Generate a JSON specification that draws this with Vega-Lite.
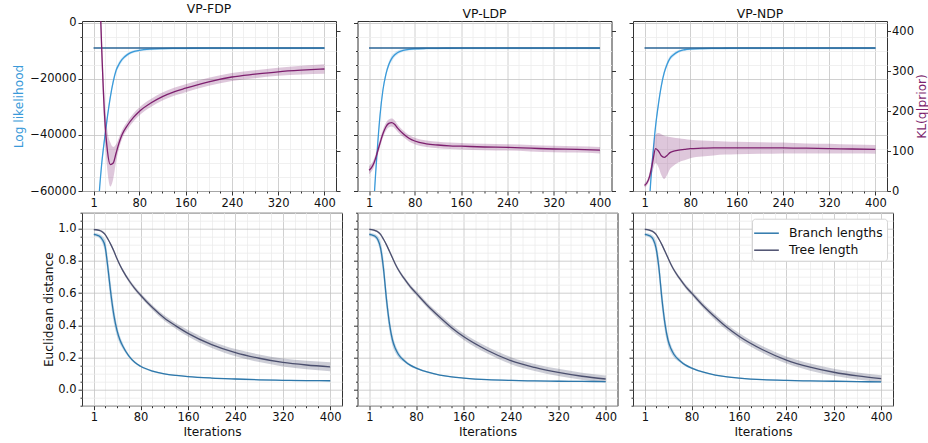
{
"$schema": "https://vega.github.io/schema/vega-lite/v6.json",
"background": "white",
"autosize": {"type": "pad"},
"padding": {"left": 11, "top": 2, "right": 0, "bottom": 0},
"config": {
  "font": "DejaVu Sans",
  "view": {"stroke": "#333", "strokeWidth": 1},
  "axis": {"labelFont": "DejaVu Sans", "labelFontSize": 11.5, "labelColor": "#111", "titleFont": "DejaVu Sans", "titleFontSize": 12.2, "titleFontWeight": "normal", "titleColor": "#111", "domain": false, "tickColor": "#333", "labelPadding": 2, "gridWidth": 0.8, "labelOverlap": false, "labelFlush": false, "titlePadding": 4},
  "title": {"font": "DejaVu Sans", "fontSize": 12.4, "fontWeight": "normal", "color": "#111", "offset": 1},
  "legend": {"labelFont": "DejaVu Sans"}
},
"datasets": {
"top": [
{"p":"FDP","s":"ref","x":1,"y":-9050},{"p":"FDP","s":"ref","x":400,"y":-9050},
{"p":"LDP","s":"ref","x":1,"y":-9050},{"p":"LDP","s":"ref","x":400,"y":-9050},
{"p":"NDP","s":"ref","x":1,"y":-9050},{"p":"NDP","s":"ref","x":400,"y":-9050},
{"p":"FDP","s":"ll","x":1,"y":-110000,"lo":-111500,"hi":-108500},
{"p":"FDP","s":"ll","x":5,"y":-85000,"lo":-86500,"hi":-83500},
{"p":"FDP","s":"ll","x":10,"y":-63500,"lo":-65000,"hi":-62000},
{"p":"FDP","s":"ll","x":15,"y":-50500,"lo":-52000,"hi":-49000},
{"p":"FDP","s":"ll","x":20,"y":-41500,"lo":-43000,"hi":-40000},
{"p":"FDP","s":"ll","x":25,"y":-33500,"lo":-34500,"hi":-32500},
{"p":"FDP","s":"ll","x":30,"y":-26500,"lo":-27500,"hi":-25500},
{"p":"FDP","s":"ll","x":35,"y":-21000,"lo":-22000,"hi":-20000},
{"p":"FDP","s":"ll","x":40,"y":-17000,"lo":-18000,"hi":-16000},
{"p":"FDP","s":"ll","x":45,"y":-14800,"lo":-15800,"hi":-13800},
{"p":"FDP","s":"ll","x":50,"y":-13200,"lo":-14000,"hi":-12400},
{"p":"FDP","s":"ll","x":60,"y":-11300,"lo":-11900,"hi":-10700},
{"p":"FDP","s":"ll","x":70,"y":-10300,"lo":-10800,"hi":-9800},
{"p":"FDP","s":"ll","x":80,"y":-9850,"lo":-10250,"hi":-9450},
{"p":"FDP","s":"ll","x":100,"y":-9420,"lo":-9820,"hi":-9020},
{"p":"FDP","s":"ll","x":120,"y":-9250,"lo":-9650,"hi":-8850},
{"p":"FDP","s":"ll","x":140,"y":-9170,"lo":-9570,"hi":-8770},
{"p":"FDP","s":"ll","x":160,"y":-9130,"lo":-9530,"hi":-8730},
{"p":"FDP","s":"ll","x":200,"y":-9100,"lo":-9500,"hi":-8700},
{"p":"FDP","s":"ll","x":240,"y":-9090,"lo":-9490,"hi":-8690},
{"p":"FDP","s":"ll","x":280,"y":-9080,"lo":-9480,"hi":-8680},
{"p":"FDP","s":"ll","x":320,"y":-9080,"lo":-9480,"hi":-8680},
{"p":"FDP","s":"ll","x":360,"y":-9075,"lo":-9475,"hi":-8675},
{"p":"FDP","s":"ll","x":400,"y":-9075,"lo":-9475,"hi":-8675},
{"p":"LDP","s":"ll","x":1,"y":-110000,"lo":-111500,"hi":-108500},
{"p":"LDP","s":"ll","x":5,"y":-85000,"lo":-86500,"hi":-83500},
{"p":"LDP","s":"ll","x":10,"y":-62000,"lo":-63500,"hi":-60500},
{"p":"LDP","s":"ll","x":15,"y":-46000,"lo":-47500,"hi":-44500},
{"p":"LDP","s":"ll","x":20,"y":-33000,"lo":-34500,"hi":-31500},
{"p":"LDP","s":"ll","x":25,"y":-24000,"lo":-25000,"hi":-23000},
{"p":"LDP","s":"ll","x":30,"y":-18500,"lo":-19500,"hi":-17500},
{"p":"LDP","s":"ll","x":35,"y":-15000,"lo":-16000,"hi":-14000},
{"p":"LDP","s":"ll","x":40,"y":-12800,"lo":-13800,"hi":-11800},
{"p":"LDP","s":"ll","x":45,"y":-11500,"lo":-12300,"hi":-10700},
{"p":"LDP","s":"ll","x":50,"y":-10700,"lo":-11400,"hi":-10000},
{"p":"LDP","s":"ll","x":60,"y":-9900,"lo":-10400,"hi":-9400},
{"p":"LDP","s":"ll","x":70,"y":-9500,"lo":-9900,"hi":-9100},
{"p":"LDP","s":"ll","x":80,"y":-9300,"lo":-9700,"hi":-8900},
{"p":"LDP","s":"ll","x":100,"y":-9180,"lo":-9580,"hi":-8780},
{"p":"LDP","s":"ll","x":120,"y":-9130,"lo":-9530,"hi":-8730},
{"p":"LDP","s":"ll","x":140,"y":-9110,"lo":-9510,"hi":-8710},
{"p":"LDP","s":"ll","x":160,"y":-9100,"lo":-9500,"hi":-8700},
{"p":"LDP","s":"ll","x":200,"y":-9090,"lo":-9490,"hi":-8690},
{"p":"LDP","s":"ll","x":240,"y":-9085,"lo":-9485,"hi":-8685},
{"p":"LDP","s":"ll","x":280,"y":-9080,"lo":-9480,"hi":-8680},
{"p":"LDP","s":"ll","x":320,"y":-9080,"lo":-9480,"hi":-8680},
{"p":"LDP","s":"ll","x":360,"y":-9075,"lo":-9475,"hi":-8675},
{"p":"LDP","s":"ll","x":400,"y":-9075,"lo":-9475,"hi":-8675},
{"p":"NDP","s":"ll","x":1,"y":-110000,"lo":-111500,"hi":-108500},
{"p":"NDP","s":"ll","x":5,"y":-85000,"lo":-86500,"hi":-83500},
{"p":"NDP","s":"ll","x":10,"y":-62000,"lo":-63500,"hi":-60500},
{"p":"NDP","s":"ll","x":15,"y":-48000,"lo":-49500,"hi":-46500},
{"p":"NDP","s":"ll","x":20,"y":-37000,"lo":-38500,"hi":-35500},
{"p":"NDP","s":"ll","x":25,"y":-29000,"lo":-30000,"hi":-28000},
{"p":"NDP","s":"ll","x":30,"y":-22500,"lo":-23500,"hi":-21500},
{"p":"NDP","s":"ll","x":35,"y":-17800,"lo":-18800,"hi":-16800},
{"p":"NDP","s":"ll","x":40,"y":-14800,"lo":-15800,"hi":-13800},
{"p":"NDP","s":"ll","x":45,"y":-12700,"lo":-13500,"hi":-11900},
{"p":"NDP","s":"ll","x":50,"y":-11600,"lo":-12300,"hi":-10900},
{"p":"NDP","s":"ll","x":60,"y":-10200,"lo":-10700,"hi":-9700},
{"p":"NDP","s":"ll","x":70,"y":-9650,"lo":-10050,"hi":-9250},
{"p":"NDP","s":"ll","x":80,"y":-9400,"lo":-9800,"hi":-9000},
{"p":"NDP","s":"ll","x":100,"y":-9220,"lo":-9620,"hi":-8820},
{"p":"NDP","s":"ll","x":120,"y":-9150,"lo":-9550,"hi":-8750},
{"p":"NDP","s":"ll","x":140,"y":-9120,"lo":-9520,"hi":-8720},
{"p":"NDP","s":"ll","x":160,"y":-9100,"lo":-9500,"hi":-8700},
{"p":"NDP","s":"ll","x":200,"y":-9090,"lo":-9490,"hi":-8690},
{"p":"NDP","s":"ll","x":240,"y":-9085,"lo":-9485,"hi":-8685},
{"p":"NDP","s":"ll","x":280,"y":-9080,"lo":-9480,"hi":-8680},
{"p":"NDP","s":"ll","x":320,"y":-9080,"lo":-9480,"hi":-8680},
{"p":"NDP","s":"ll","x":360,"y":-9075,"lo":-9475,"hi":-8675},
{"p":"NDP","s":"ll","x":400,"y":-9075,"lo":-9475,"hi":-8675},
{"p":"FDP","s":"kl","x":1,"y":950,"lo":910,"hi":990},
{"p":"FDP","s":"kl","x":5,"y":800,"lo":760,"hi":840},
{"p":"FDP","s":"kl","x":10,"y":580,"lo":540,"hi":620},
{"p":"FDP","s":"kl","x":15,"y":360,"lo":320,"hi":400},
{"p":"FDP","s":"kl","x":20,"y":190,"lo":145,"hi":235},
{"p":"FDP","s":"kl","x":25,"y":100,"lo":50,"hi":150},
{"p":"FDP","s":"kl","x":30,"y":66,"lo":11,"hi":121},
{"p":"FDP","s":"kl","x":35,"y":70,"lo":30,"hi":110},
{"p":"FDP","s":"kl","x":40,"y":95,"lo":73,"hi":117},
{"p":"FDP","s":"kl","x":45,"y":120,"lo":106,"hi":134},
{"p":"FDP","s":"kl","x":50,"y":140,"lo":129,"hi":151},
{"p":"FDP","s":"kl","x":60,"y":165,"lo":155,"hi":175},
{"p":"FDP","s":"kl","x":70,"y":184,"lo":174,"hi":194},
{"p":"FDP","s":"kl","x":80,"y":199,"lo":189,"hi":209},
{"p":"FDP","s":"kl","x":100,"y":220,"lo":210,"hi":230},
{"p":"FDP","s":"kl","x":120,"y":236,"lo":226,"hi":246},
{"p":"FDP","s":"kl","x":140,"y":248,"lo":238,"hi":258},
{"p":"FDP","s":"kl","x":160,"y":257,"lo":247,"hi":267},
{"p":"FDP","s":"kl","x":200,"y":273,"lo":263,"hi":283},
{"p":"FDP","s":"kl","x":240,"y":285,"lo":275,"hi":295},
{"p":"FDP","s":"kl","x":280,"y":292,"lo":282,"hi":302},
{"p":"FDP","s":"kl","x":320,"y":298,"lo":288,"hi":308},
{"p":"FDP","s":"kl","x":360,"y":302,"lo":291,"hi":313},
{"p":"FDP","s":"kl","x":400,"y":305,"lo":293,"hi":317},
{"p":"LDP","s":"kl","x":1,"y":52,"lo":42,"hi":62},
{"p":"LDP","s":"kl","x":5,"y":58,"lo":48,"hi":68},
{"p":"LDP","s":"kl","x":10,"y":72,"lo":62,"hi":82},
{"p":"LDP","s":"kl","x":15,"y":95,"lo":85,"hi":105},
{"p":"LDP","s":"kl","x":20,"y":120,"lo":110,"hi":130},
{"p":"LDP","s":"kl","x":25,"y":143,"lo":133,"hi":153},
{"p":"LDP","s":"kl","x":30,"y":160,"lo":150,"hi":170},
{"p":"LDP","s":"kl","x":35,"y":169,"lo":159,"hi":179},
{"p":"LDP","s":"kl","x":40,"y":171,"lo":161,"hi":181},
{"p":"LDP","s":"kl","x":45,"y":167,"lo":157,"hi":177},
{"p":"LDP","s":"kl","x":50,"y":158,"lo":149,"hi":167},
{"p":"LDP","s":"kl","x":60,"y":143,"lo":135,"hi":151},
{"p":"LDP","s":"kl","x":70,"y":132,"lo":124,"hi":140},
{"p":"LDP","s":"kl","x":80,"y":125,"lo":117,"hi":133},
{"p":"LDP","s":"kl","x":100,"y":118,"lo":110,"hi":126},
{"p":"LDP","s":"kl","x":120,"y":115,"lo":107,"hi":123},
{"p":"LDP","s":"kl","x":140,"y":113,"lo":105,"hi":121},
{"p":"LDP","s":"kl","x":160,"y":112,"lo":104,"hi":120},
{"p":"LDP","s":"kl","x":200,"y":110,"lo":102,"hi":118},
{"p":"LDP","s":"kl","x":240,"y":109,"lo":101,"hi":117},
{"p":"LDP","s":"kl","x":280,"y":107,"lo":99,"hi":115},
{"p":"LDP","s":"kl","x":320,"y":105,"lo":97,"hi":113},
{"p":"LDP","s":"kl","x":360,"y":104,"lo":96,"hi":112},
{"p":"LDP","s":"kl","x":400,"y":102,"lo":94,"hi":110},
{"p":"NDP","s":"kl","x":1,"y":14,"lo":9,"hi":19},
{"p":"NDP","s":"kl","x":5,"y":20,"lo":14,"hi":26},
{"p":"NDP","s":"kl","x":10,"y":38,"lo":28,"hi":48},
{"p":"NDP","s":"kl","x":15,"y":72,"lo":50,"hi":94},
{"p":"NDP","s":"kl","x":20,"y":106,"lo":70,"hi":140},
{"p":"NDP","s":"kl","x":25,"y":100,"lo":60,"hi":145},
{"p":"NDP","s":"kl","x":30,"y":88,"lo":40,"hi":142},
{"p":"NDP","s":"kl","x":35,"y":84,"lo":30,"hi":138},
{"p":"NDP","s":"kl","x":40,"y":89,"lo":40,"hi":136},
{"p":"NDP","s":"kl","x":45,"y":96,"lo":55,"hi":135},
{"p":"NDP","s":"kl","x":50,"y":99,"lo":62,"hi":134},
{"p":"NDP","s":"kl","x":60,"y":102,"lo":72,"hi":132},
{"p":"NDP","s":"kl","x":70,"y":104,"lo":77,"hi":130},
{"p":"NDP","s":"kl","x":80,"y":106,"lo":82,"hi":128},
{"p":"NDP","s":"kl","x":100,"y":107,"lo":86,"hi":126},
{"p":"NDP","s":"kl","x":120,"y":108,"lo":89,"hi":125},
{"p":"NDP","s":"kl","x":140,"y":108,"lo":91,"hi":124},
{"p":"NDP","s":"kl","x":160,"y":108,"lo":92,"hi":123},
{"p":"NDP","s":"kl","x":200,"y":108,"lo":93,"hi":122},
{"p":"NDP","s":"kl","x":240,"y":108,"lo":94,"hi":121},
{"p":"NDP","s":"kl","x":280,"y":107,"lo":94,"hi":119},
{"p":"NDP","s":"kl","x":320,"y":106,"lo":94,"hi":118},
{"p":"NDP","s":"kl","x":360,"y":105,"lo":94,"hi":116},
{"p":"NDP","s":"kl","x":400,"y":104,"lo":93,"hi":115}
],
"bot": [
{"p":"FDP","s":"Branch lengths","x":1,"y":0.965,"lo":0.955,"hi":0.975},
{"p":"FDP","s":"Branch lengths","x":5,"y":0.962,"lo":0.952,"hi":0.972},
{"p":"FDP","s":"Branch lengths","x":10,"y":0.955,"lo":0.943,"hi":0.967},
{"p":"FDP","s":"Branch lengths","x":15,"y":0.935,"lo":0.915,"hi":0.955},
{"p":"FDP","s":"Branch lengths","x":20,"y":0.89,"lo":0.85,"hi":0.93},
{"p":"FDP","s":"Branch lengths","x":25,"y":0.75,"lo":0.69,"hi":0.81},
{"p":"FDP","s":"Branch lengths","x":30,"y":0.59,"lo":0.53,"hi":0.65},
{"p":"FDP","s":"Branch lengths","x":35,"y":0.46,"lo":0.41,"hi":0.51},
{"p":"FDP","s":"Branch lengths","x":40,"y":0.37,"lo":0.335,"hi":0.405},
{"p":"FDP","s":"Branch lengths","x":45,"y":0.31,"lo":0.285,"hi":0.335},
{"p":"FDP","s":"Branch lengths","x":50,"y":0.27,"lo":0.252,"hi":0.288},
{"p":"FDP","s":"Branch lengths","x":60,"y":0.21,"lo":0.2,"hi":0.22},
{"p":"FDP","s":"Branch lengths","x":70,"y":0.17,"lo":0.162,"hi":0.178},
{"p":"FDP","s":"Branch lengths","x":80,"y":0.145,"lo":0.139,"hi":0.151},
{"p":"FDP","s":"Branch lengths","x":100,"y":0.115,"lo":0.11,"hi":0.12},
{"p":"FDP","s":"Branch lengths","x":120,"y":0.098,"lo":0.094,"hi":0.102},
{"p":"FDP","s":"Branch lengths","x":140,"y":0.088,"lo":0.084,"hi":0.092},
{"p":"FDP","s":"Branch lengths","x":160,"y":0.081,"lo":0.077,"hi":0.085},
{"p":"FDP","s":"Branch lengths","x":200,"y":0.072,"lo":0.068,"hi":0.076},
{"p":"FDP","s":"Branch lengths","x":240,"y":0.066,"lo":0.062,"hi":0.07},
{"p":"FDP","s":"Branch lengths","x":280,"y":0.061,"lo":0.057,"hi":0.065},
{"p":"FDP","s":"Branch lengths","x":320,"y":0.058,"lo":0.054,"hi":0.062},
{"p":"FDP","s":"Branch lengths","x":360,"y":0.056,"lo":0.052,"hi":0.06},
{"p":"FDP","s":"Branch lengths","x":400,"y":0.055,"lo":0.051,"hi":0.059},
{"p":"FDP","s":"Tree length","x":1,"y":0.995,"lo":0.99,"hi":1.0},
{"p":"FDP","s":"Tree length","x":5,"y":0.994,"lo":0.989,"hi":0.999},
{"p":"FDP","s":"Tree length","x":10,"y":0.99,"lo":0.984,"hi":0.996},
{"p":"FDP","s":"Tree length","x":15,"y":0.982,"lo":0.975,"hi":0.989},
{"p":"FDP","s":"Tree length","x":20,"y":0.965,"lo":0.957,"hi":0.973},
{"p":"FDP","s":"Tree length","x":25,"y":0.935,"lo":0.927,"hi":0.943},
{"p":"FDP","s":"Tree length","x":30,"y":0.9,"lo":0.891,"hi":0.909},
{"p":"FDP","s":"Tree length","x":35,"y":0.86,"lo":0.85,"hi":0.87},
{"p":"FDP","s":"Tree length","x":40,"y":0.815,"lo":0.805,"hi":0.825},
{"p":"FDP","s":"Tree length","x":45,"y":0.775,"lo":0.765,"hi":0.785},
{"p":"FDP","s":"Tree length","x":50,"y":0.74,"lo":0.729,"hi":0.751},
{"p":"FDP","s":"Tree length","x":60,"y":0.68,"lo":0.668,"hi":0.692},
{"p":"FDP","s":"Tree length","x":70,"y":0.63,"lo":0.618,"hi":0.642},
{"p":"FDP","s":"Tree length","x":80,"y":0.587,"lo":0.574,"hi":0.6},
{"p":"FDP","s":"Tree length","x":100,"y":0.51,"lo":0.495,"hi":0.525},
{"p":"FDP","s":"Tree length","x":120,"y":0.445,"lo":0.428,"hi":0.462},
{"p":"FDP","s":"Tree length","x":140,"y":0.395,"lo":0.377,"hi":0.413},
{"p":"FDP","s":"Tree length","x":160,"y":0.35,"lo":0.33,"hi":0.37},
{"p":"FDP","s":"Tree length","x":200,"y":0.28,"lo":0.259,"hi":0.301},
{"p":"FDP","s":"Tree length","x":240,"y":0.23,"lo":0.208,"hi":0.252},
{"p":"FDP","s":"Tree length","x":280,"y":0.195,"lo":0.171,"hi":0.219},
{"p":"FDP","s":"Tree length","x":320,"y":0.169,"lo":0.144,"hi":0.194},
{"p":"FDP","s":"Tree length","x":360,"y":0.153,"lo":0.126,"hi":0.18},
{"p":"FDP","s":"Tree length","x":400,"y":0.142,"lo":0.114,"hi":0.17},
{"p":"LDP","s":"Branch lengths","x":1,"y":0.965,"lo":0.955,"hi":0.975},
{"p":"LDP","s":"Branch lengths","x":5,"y":0.962,"lo":0.952,"hi":0.972},
{"p":"LDP","s":"Branch lengths","x":10,"y":0.955,"lo":0.943,"hi":0.967},
{"p":"LDP","s":"Branch lengths","x":15,"y":0.935,"lo":0.915,"hi":0.955},
{"p":"LDP","s":"Branch lengths","x":20,"y":0.88,"lo":0.84,"hi":0.92},
{"p":"LDP","s":"Branch lengths","x":25,"y":0.75,"lo":0.69,"hi":0.81},
{"p":"LDP","s":"Branch lengths","x":30,"y":0.56,"lo":0.5,"hi":0.62},
{"p":"LDP","s":"Branch lengths","x":35,"y":0.41,"lo":0.36,"hi":0.46},
{"p":"LDP","s":"Branch lengths","x":40,"y":0.31,"lo":0.275,"hi":0.345},
{"p":"LDP","s":"Branch lengths","x":45,"y":0.255,"lo":0.23,"hi":0.28},
{"p":"LDP","s":"Branch lengths","x":50,"y":0.22,"lo":0.202,"hi":0.238},
{"p":"LDP","s":"Branch lengths","x":60,"y":0.18,"lo":0.17,"hi":0.19},
{"p":"LDP","s":"Branch lengths","x":70,"y":0.152,"lo":0.144,"hi":0.16},
{"p":"LDP","s":"Branch lengths","x":80,"y":0.134,"lo":0.128,"hi":0.14},
{"p":"LDP","s":"Branch lengths","x":100,"y":0.108,"lo":0.103,"hi":0.113},
{"p":"LDP","s":"Branch lengths","x":120,"y":0.09,"lo":0.086,"hi":0.094},
{"p":"LDP","s":"Branch lengths","x":140,"y":0.079,"lo":0.075,"hi":0.083},
{"p":"LDP","s":"Branch lengths","x":160,"y":0.072,"lo":0.068,"hi":0.076},
{"p":"LDP","s":"Branch lengths","x":200,"y":0.062,"lo":0.058,"hi":0.066},
{"p":"LDP","s":"Branch lengths","x":240,"y":0.057,"lo":0.053,"hi":0.061},
{"p":"LDP","s":"Branch lengths","x":280,"y":0.054,"lo":0.05,"hi":0.058},
{"p":"LDP","s":"Branch lengths","x":320,"y":0.052,"lo":0.048,"hi":0.056},
{"p":"LDP","s":"Branch lengths","x":360,"y":0.051,"lo":0.047,"hi":0.055},
{"p":"LDP","s":"Branch lengths","x":400,"y":0.05,"lo":0.046,"hi":0.054},
{"p":"LDP","s":"Tree length","x":1,"y":0.996,"lo":0.991,"hi":1.001},
{"p":"LDP","s":"Tree length","x":5,"y":0.995,"lo":0.99,"hi":1.0},
{"p":"LDP","s":"Tree length","x":10,"y":0.99,"lo":0.984,"hi":0.996},
{"p":"LDP","s":"Tree length","x":15,"y":0.982,"lo":0.975,"hi":0.989},
{"p":"LDP","s":"Tree length","x":20,"y":0.965,"lo":0.957,"hi":0.973},
{"p":"LDP","s":"Tree length","x":25,"y":0.935,"lo":0.927,"hi":0.943},
{"p":"LDP","s":"Tree length","x":30,"y":0.9,"lo":0.891,"hi":0.909},
{"p":"LDP","s":"Tree length","x":35,"y":0.86,"lo":0.85,"hi":0.87},
{"p":"LDP","s":"Tree length","x":40,"y":0.82,"lo":0.81,"hi":0.83},
{"p":"LDP","s":"Tree length","x":45,"y":0.78,"lo":0.77,"hi":0.79},
{"p":"LDP","s":"Tree length","x":50,"y":0.745,"lo":0.734,"hi":0.756},
{"p":"LDP","s":"Tree length","x":60,"y":0.69,"lo":0.678,"hi":0.702},
{"p":"LDP","s":"Tree length","x":70,"y":0.64,"lo":0.627,"hi":0.653},
{"p":"LDP","s":"Tree length","x":80,"y":0.6,"lo":0.586,"hi":0.614},
{"p":"LDP","s":"Tree length","x":100,"y":0.52,"lo":0.504,"hi":0.536},
{"p":"LDP","s":"Tree length","x":120,"y":0.45,"lo":0.432,"hi":0.468},
{"p":"LDP","s":"Tree length","x":140,"y":0.385,"lo":0.366,"hi":0.404},
{"p":"LDP","s":"Tree length","x":160,"y":0.33,"lo":0.31,"hi":0.35},
{"p":"LDP","s":"Tree length","x":200,"y":0.245,"lo":0.224,"hi":0.266},
{"p":"LDP","s":"Tree length","x":240,"y":0.18,"lo":0.158,"hi":0.202},
{"p":"LDP","s":"Tree length","x":280,"y":0.138,"lo":0.116,"hi":0.16},
{"p":"LDP","s":"Tree length","x":320,"y":0.107,"lo":0.085,"hi":0.129},
{"p":"LDP","s":"Tree length","x":360,"y":0.083,"lo":0.061,"hi":0.105},
{"p":"LDP","s":"Tree length","x":400,"y":0.066,"lo":0.044,"hi":0.088},
{"p":"NDP","s":"Branch lengths","x":1,"y":0.965,"lo":0.955,"hi":0.975},
{"p":"NDP","s":"Branch lengths","x":5,"y":0.962,"lo":0.952,"hi":0.972},
{"p":"NDP","s":"Branch lengths","x":10,"y":0.955,"lo":0.943,"hi":0.967},
{"p":"NDP","s":"Branch lengths","x":15,"y":0.935,"lo":0.915,"hi":0.955},
{"p":"NDP","s":"Branch lengths","x":20,"y":0.88,"lo":0.84,"hi":0.92},
{"p":"NDP","s":"Branch lengths","x":25,"y":0.75,"lo":0.69,"hi":0.81},
{"p":"NDP","s":"Branch lengths","x":30,"y":0.56,"lo":0.5,"hi":0.62},
{"p":"NDP","s":"Branch lengths","x":35,"y":0.41,"lo":0.36,"hi":0.46},
{"p":"NDP","s":"Branch lengths","x":40,"y":0.31,"lo":0.275,"hi":0.345},
{"p":"NDP","s":"Branch lengths","x":45,"y":0.255,"lo":0.23,"hi":0.28},
{"p":"NDP","s":"Branch lengths","x":50,"y":0.22,"lo":0.202,"hi":0.238},
{"p":"NDP","s":"Branch lengths","x":60,"y":0.18,"lo":0.17,"hi":0.19},
{"p":"NDP","s":"Branch lengths","x":70,"y":0.152,"lo":0.144,"hi":0.16},
{"p":"NDP","s":"Branch lengths","x":80,"y":0.134,"lo":0.128,"hi":0.14},
{"p":"NDP","s":"Branch lengths","x":100,"y":0.108,"lo":0.103,"hi":0.113},
{"p":"NDP","s":"Branch lengths","x":120,"y":0.09,"lo":0.086,"hi":0.094},
{"p":"NDP","s":"Branch lengths","x":140,"y":0.079,"lo":0.075,"hi":0.083},
{"p":"NDP","s":"Branch lengths","x":160,"y":0.072,"lo":0.068,"hi":0.076},
{"p":"NDP","s":"Branch lengths","x":200,"y":0.062,"lo":0.058,"hi":0.066},
{"p":"NDP","s":"Branch lengths","x":240,"y":0.057,"lo":0.053,"hi":0.061},
{"p":"NDP","s":"Branch lengths","x":280,"y":0.054,"lo":0.05,"hi":0.058},
{"p":"NDP","s":"Branch lengths","x":320,"y":0.052,"lo":0.048,"hi":0.056},
{"p":"NDP","s":"Branch lengths","x":360,"y":0.05,"lo":0.046,"hi":0.054},
{"p":"NDP","s":"Branch lengths","x":400,"y":0.048,"lo":0.044,"hi":0.052},
{"p":"NDP","s":"Tree length","x":1,"y":0.996,"lo":0.991,"hi":1.001},
{"p":"NDP","s":"Tree length","x":5,"y":0.995,"lo":0.99,"hi":1.0},
{"p":"NDP","s":"Tree length","x":10,"y":0.99,"lo":0.984,"hi":0.996},
{"p":"NDP","s":"Tree length","x":15,"y":0.982,"lo":0.975,"hi":0.989},
{"p":"NDP","s":"Tree length","x":20,"y":0.965,"lo":0.957,"hi":0.973},
{"p":"NDP","s":"Tree length","x":25,"y":0.935,"lo":0.927,"hi":0.943},
{"p":"NDP","s":"Tree length","x":30,"y":0.9,"lo":0.891,"hi":0.909},
{"p":"NDP","s":"Tree length","x":35,"y":0.86,"lo":0.85,"hi":0.87},
{"p":"NDP","s":"Tree length","x":40,"y":0.82,"lo":0.81,"hi":0.83},
{"p":"NDP","s":"Tree length","x":45,"y":0.78,"lo":0.77,"hi":0.79},
{"p":"NDP","s":"Tree length","x":50,"y":0.745,"lo":0.734,"hi":0.756},
{"p":"NDP","s":"Tree length","x":60,"y":0.69,"lo":0.678,"hi":0.702},
{"p":"NDP","s":"Tree length","x":70,"y":0.64,"lo":0.627,"hi":0.653},
{"p":"NDP","s":"Tree length","x":80,"y":0.6,"lo":0.586,"hi":0.614},
{"p":"NDP","s":"Tree length","x":100,"y":0.52,"lo":0.504,"hi":0.536},
{"p":"NDP","s":"Tree length","x":120,"y":0.45,"lo":0.432,"hi":0.468},
{"p":"NDP","s":"Tree length","x":140,"y":0.386,"lo":0.367,"hi":0.405},
{"p":"NDP","s":"Tree length","x":160,"y":0.332,"lo":0.312,"hi":0.352},
{"p":"NDP","s":"Tree length","x":200,"y":0.248,"lo":0.227,"hi":0.269},
{"p":"NDP","s":"Tree length","x":240,"y":0.184,"lo":0.162,"hi":0.206},
{"p":"NDP","s":"Tree length","x":280,"y":0.14,"lo":0.118,"hi":0.162},
{"p":"NDP","s":"Tree length","x":320,"y":0.108,"lo":0.086,"hi":0.13},
{"p":"NDP","s":"Tree length","x":360,"y":0.085,"lo":0.063,"hi":0.107},
{"p":"NDP","s":"Tree length","x":400,"y":0.068,"lo":0.046,"hi":0.09}
]
},
"columns": 3,
"align": "none",
"bounds": "flush",
"spacing": {"row": 21.7, "column": 15.5},
"resolve": {"scale": {"color": "independent"}},
"concat": [
{
 "width": 254, "height": 170,
 "title": "VP-FDP",
 "data": {"name": "top"},
 "transform": [{"filter": "datum.p === 'FDP'"}],
 "encoding": {"x": {"field": "x", "type": "quantitative", "scale": {"domain": [-18.95, 419.95], "nice": false, "zero": false}, "axis": {"values": [1,20,40,60,80,100,120,140,160,180,200,220,240,260,280,300,320,340,360,380,400], "labelExpr": "indexof([1,80,160,240,320,400], datum.value) >= 0 ? datum.label : ''", "gridColor": {"condition": {"test": "indexof([1,80,160,240,320,400], datum.value) >= 0", "value": "#c4c4c4"}, "value": "#ececec"}, "tickSize": {"condition": {"test": "indexof([1,80,160,240,320,400], datum.value) >= 0", "value": 4}, "value": 2}, "title": null}}},
 "layer": [
  {"layer": [
   {"transform": [{"filter": "datum.s === 'll'"}], "mark": {"type": "area", "color": "#3a9ad9", "opacity": 0.22, "clip": true, "interpolate": "monotone"}, "encoding": {"y": {"field": "lo", "type": "quantitative", "scale": {"domain": [-60000, 600], "nice": false, "zero": false}, "axis": {"values": [-60000,-55000,-50000,-45000,-40000,-35000,-30000,-25000,-20000,-15000,-10000,-5000,0], "format": "d", "labelExpr": "datum.value % 20000 === 0 ? datum.label : ''", "gridColor": {"condition": {"test": "datum.value % 20000 === 0", "value": "#c4c4c4"}, "value": "#ececec"}, "tickSize": {"condition": {"test": "datum.value % 20000 === 0", "value": 4}, "value": 2}, "title": "Log likelihood", "titleColor": "#3a9ad9", "titleX": -64, "titleY": 85, "titleBaseline": "middle"}}, "y2": {"field": "hi"}}},
   {"transform": [{"filter": "datum.s === 'll'"}], "mark": {"type": "line", "color": "#3a9ad9", "strokeWidth": 1.3, "clip": true, "interpolate": "monotone"}, "encoding": {"y": {"field": "y", "type": "quantitative", "scale": {"domain": [-60000, 600], "nice": false, "zero": false}, "axis": {"values": [-60000,-55000,-50000,-45000,-40000,-35000,-30000,-25000,-20000,-15000,-10000,-5000,0], "format": "d", "labelExpr": "datum.value % 20000 === 0 ? datum.label : ''", "gridColor": {"condition": {"test": "datum.value % 20000 === 0", "value": "#c4c4c4"}, "value": "#ececec"}, "tickSize": {"condition": {"test": "datum.value % 20000 === 0", "value": 4}, "value": 2}, "title": "Log likelihood", "titleColor": "#3a9ad9", "titleX": -64, "titleY": 85, "titleBaseline": "middle"}}}},
   {"transform": [{"filter": "datum.s === 'ref'"}], "mark": {"type": "line", "color": "#2a6496", "strokeWidth": 1.5, "clip": true}, "encoding": {"y": {"field": "y", "type": "quantitative", "scale": {"domain": [-60000, 600], "nice": false, "zero": false}, "axis": {"values": [-60000,-55000,-50000,-45000,-40000,-35000,-30000,-25000,-20000,-15000,-10000,-5000,0], "format": "d", "labelExpr": "datum.value % 20000 === 0 ? datum.label : ''", "gridColor": {"condition": {"test": "datum.value % 20000 === 0", "value": "#c4c4c4"}, "value": "#ececec"}, "tickSize": {"condition": {"test": "datum.value % 20000 === 0", "value": 4}, "value": 2}, "title": "Log likelihood", "titleColor": "#3a9ad9", "titleX": -64, "titleY": 85, "titleBaseline": "middle"}}}}
  ]},
  {"layer": [
   {"transform": [{"filter": "datum.s === 'kl'"}], "mark": {"type": "area", "color": "#7d1f6e", "opacity": 0.25, "clip": true, "interpolate": "monotone"}, "encoding": {"y": {"field": "lo", "type": "quantitative", "scale": {"domain": [0, 425], "nice": false, "zero": false}, "axis": {"orient": "right", "values": [0,100,200,300,400], "grid": false, "tickSize": 4, "labels": false, "title": null}}, "y2": {"field": "hi"}}},
   {"transform": [{"filter": "datum.s === 'kl'"}], "mark": {"type": "line", "color": "#7d1f6e", "strokeWidth": 1.3, "clip": true, "interpolate": "monotone"}, "encoding": {"y": {"field": "y", "type": "quantitative", "scale": {"domain": [0, 425], "nice": false, "zero": false}, "axis": {"orient": "right", "values": [0,100,200,300,400], "grid": false, "tickSize": 4, "labels": false, "title": null}}}}
  ]}
 ],
 "resolve": {"scale": {"y": "independent"}}
},
{
 "width": 254, "height": 170,
 "title": "VP-LDP",
 "data": {"name": "top"},
 "transform": [{"filter": "datum.p === 'LDP'"}],
 "encoding": {"x": {"field": "x", "type": "quantitative", "scale": {"domain": [-18.95, 419.95], "nice": false, "zero": false}, "axis": {"values": [1,20,40,60,80,100,120,140,160,180,200,220,240,260,280,300,320,340,360,380,400], "labelExpr": "indexof([1,80,160,240,320,400], datum.value) >= 0 ? datum.label : ''", "gridColor": {"condition": {"test": "indexof([1,80,160,240,320,400], datum.value) >= 0", "value": "#c4c4c4"}, "value": "#ececec"}, "tickSize": {"condition": {"test": "indexof([1,80,160,240,320,400], datum.value) >= 0", "value": 4}, "value": 2}, "title": null}}},
 "layer": [
  {"layer": [
   {"transform": [{"filter": "datum.s === 'll'"}], "mark": {"type": "area", "color": "#3a9ad9", "opacity": 0.22, "clip": true, "interpolate": "monotone"}, "encoding": {"y": {"field": "lo", "type": "quantitative", "scale": {"domain": [-60000, 600], "nice": false, "zero": false}, "axis": {"values": [-60000,-55000,-50000,-45000,-40000,-35000,-30000,-25000,-20000,-15000,-10000,-5000,0], "labels": false, "gridColor": {"condition": {"test": "datum.value % 20000 === 0", "value": "#c4c4c4"}, "value": "#ececec"}, "tickSize": {"condition": {"test": "datum.value % 20000 === 0", "value": 4}, "value": 2}, "title": null}}, "y2": {"field": "hi"}}},
   {"transform": [{"filter": "datum.s === 'll'"}], "mark": {"type": "line", "color": "#3a9ad9", "strokeWidth": 1.3, "clip": true, "interpolate": "monotone"}, "encoding": {"y": {"field": "y", "type": "quantitative", "scale": {"domain": [-60000, 600], "nice": false, "zero": false}, "axis": {"values": [-60000,-55000,-50000,-45000,-40000,-35000,-30000,-25000,-20000,-15000,-10000,-5000,0], "labels": false, "gridColor": {"condition": {"test": "datum.value % 20000 === 0", "value": "#c4c4c4"}, "value": "#ececec"}, "tickSize": {"condition": {"test": "datum.value % 20000 === 0", "value": 4}, "value": 2}, "title": null}}}},
   {"transform": [{"filter": "datum.s === 'ref'"}], "mark": {"type": "line", "color": "#2a6496", "strokeWidth": 1.5, "clip": true}, "encoding": {"y": {"field": "y", "type": "quantitative", "scale": {"domain": [-60000, 600], "nice": false, "zero": false}, "axis": {"values": [-60000,-55000,-50000,-45000,-40000,-35000,-30000,-25000,-20000,-15000,-10000,-5000,0], "labels": false, "gridColor": {"condition": {"test": "datum.value % 20000 === 0", "value": "#c4c4c4"}, "value": "#ececec"}, "tickSize": {"condition": {"test": "datum.value % 20000 === 0", "value": 4}, "value": 2}, "title": null}}}}
  ]},
  {"layer": [
   {"transform": [{"filter": "datum.s === 'kl'"}], "mark": {"type": "area", "color": "#7d1f6e", "opacity": 0.25, "clip": true, "interpolate": "monotone"}, "encoding": {"y": {"field": "lo", "type": "quantitative", "scale": {"domain": [0, 425], "nice": false, "zero": false}, "axis": {"orient": "right", "values": [0,100,200,300,400], "grid": false, "tickSize": 4, "labels": false, "title": null}}, "y2": {"field": "hi"}}},
   {"transform": [{"filter": "datum.s === 'kl'"}], "mark": {"type": "line", "color": "#7d1f6e", "strokeWidth": 1.3, "clip": true, "interpolate": "monotone"}, "encoding": {"y": {"field": "y", "type": "quantitative", "scale": {"domain": [0, 425], "nice": false, "zero": false}, "axis": {"orient": "right", "values": [0,100,200,300,400], "grid": false, "tickSize": 4, "labels": false, "title": null}}}}
  ]}
 ],
 "resolve": {"scale": {"y": "independent"}}
},
{
 "width": 254, "height": 170,
 "title": "VP-NDP",
 "data": {"name": "top"},
 "transform": [{"filter": "datum.p === 'NDP'"}],
 "encoding": {"x": {"field": "x", "type": "quantitative", "scale": {"domain": [-18.95, 419.95], "nice": false, "zero": false}, "axis": {"values": [1,20,40,60,80,100,120,140,160,180,200,220,240,260,280,300,320,340,360,380,400], "labelExpr": "indexof([1,80,160,240,320,400], datum.value) >= 0 ? datum.label : ''", "gridColor": {"condition": {"test": "indexof([1,80,160,240,320,400], datum.value) >= 0", "value": "#c4c4c4"}, "value": "#ececec"}, "tickSize": {"condition": {"test": "indexof([1,80,160,240,320,400], datum.value) >= 0", "value": 4}, "value": 2}, "title": null}}},
 "layer": [
  {"layer": [
   {"transform": [{"filter": "datum.s === 'll'"}], "mark": {"type": "area", "color": "#3a9ad9", "opacity": 0.22, "clip": true, "interpolate": "monotone"}, "encoding": {"y": {"field": "lo", "type": "quantitative", "scale": {"domain": [-60000, 600], "nice": false, "zero": false}, "axis": {"values": [-60000,-55000,-50000,-45000,-40000,-35000,-30000,-25000,-20000,-15000,-10000,-5000,0], "labels": false, "gridColor": {"condition": {"test": "datum.value % 20000 === 0", "value": "#c4c4c4"}, "value": "#ececec"}, "tickSize": {"condition": {"test": "datum.value % 20000 === 0", "value": 4}, "value": 2}, "title": null}}, "y2": {"field": "hi"}}},
   {"transform": [{"filter": "datum.s === 'll'"}], "mark": {"type": "line", "color": "#3a9ad9", "strokeWidth": 1.3, "clip": true, "interpolate": "monotone"}, "encoding": {"y": {"field": "y", "type": "quantitative", "scale": {"domain": [-60000, 600], "nice": false, "zero": false}, "axis": {"values": [-60000,-55000,-50000,-45000,-40000,-35000,-30000,-25000,-20000,-15000,-10000,-5000,0], "labels": false, "gridColor": {"condition": {"test": "datum.value % 20000 === 0", "value": "#c4c4c4"}, "value": "#ececec"}, "tickSize": {"condition": {"test": "datum.value % 20000 === 0", "value": 4}, "value": 2}, "title": null}}}},
   {"transform": [{"filter": "datum.s === 'ref'"}], "mark": {"type": "line", "color": "#2a6496", "strokeWidth": 1.5, "clip": true}, "encoding": {"y": {"field": "y", "type": "quantitative", "scale": {"domain": [-60000, 600], "nice": false, "zero": false}, "axis": {"values": [-60000,-55000,-50000,-45000,-40000,-35000,-30000,-25000,-20000,-15000,-10000,-5000,0], "labels": false, "gridColor": {"condition": {"test": "datum.value % 20000 === 0", "value": "#c4c4c4"}, "value": "#ececec"}, "tickSize": {"condition": {"test": "datum.value % 20000 === 0", "value": 4}, "value": 2}, "title": null}}}}
  ]},
  {"layer": [
   {"transform": [{"filter": "datum.s === 'kl'"}], "mark": {"type": "area", "color": "#7d1f6e", "opacity": 0.25, "clip": true, "interpolate": "monotone"}, "encoding": {"y": {"field": "lo", "type": "quantitative", "scale": {"domain": [0, 425], "nice": false, "zero": false}, "axis": {"orient": "right", "values": [0,100,200,300,400], "format": "d", "grid": false, "tickSize": 3.5, "labelPadding": 1, "title": "KL(q|prior)", "titleColor": "#7d1f6e", "titleAngle": 270, "titleBaseline": "middle", "titleX": 34, "titleY": 85}}, "y2": {"field": "hi"}}},
   {"transform": [{"filter": "datum.s === 'kl'"}], "mark": {"type": "line", "color": "#7d1f6e", "strokeWidth": 1.3, "clip": true, "interpolate": "monotone"}, "encoding": {"y": {"field": "y", "type": "quantitative", "scale": {"domain": [0, 425], "nice": false, "zero": false}, "axis": {"orient": "right", "values": [0,100,200,300,400], "format": "d", "grid": false, "tickSize": 3.5, "labelPadding": 1, "title": "KL(q|prior)", "titleColor": "#7d1f6e", "titleAngle": 270, "titleBaseline": "middle", "titleX": 34, "titleY": 85}}}}
  ]}
 ],
 "resolve": {"scale": {"y": "independent"}}
},
{
 "width": 260, "height": 193,
 "data": {"name": "bot"},
 "transform": [{"filter": "datum.p === 'FDP'"}],
 "encoding": {
  "x": {"field": "x", "type": "quantitative", "scale": {"domain": [-18.95, 419.95], "nice": false, "zero": false}, "axis": {"values": [1,20,40,60,80,100,120,140,160,180,200,220,240,260,280,300,320,340,360,380,400], "labelExpr": "indexof([1,80,160,240,320,400], datum.value) >= 0 ? datum.label : ''", "gridColor": {"condition": {"test": "indexof([1,80,160,240,320,400], datum.value) >= 0", "value": "#c4c4c4"}, "value": "#ececec"}, "tickSize": {"condition": {"test": "indexof([1,80,160,240,320,400], datum.value) >= 0", "value": 4}, "value": 2}, "title": "Iterations", "titlePadding": 2}},
  "color": {"field": "s", "type": "nominal", "scale": {"domain": ["Branch lengths", "Tree length"], "range": ["#2e78ab", "#4b4f6e"]}, "legend": null}
 },
 "layer": [
  {"mark": {"type": "area", "opacity": 0.28, "clip": true, "interpolate": "monotone"}, "encoding": {"y": {"field": "lo", "type": "quantitative", "stack": null, "scale": {"domain": [-0.1, 1.1], "nice": false, "zero": false}, "axis": {"values": [-0.1,-0.05,0,0.05,0.1,0.15,0.2,0.25,0.3,0.35,0.4,0.45,0.5,0.55,0.6,0.65,0.7,0.75,0.8,0.85,0.9,0.95,1,1.05,1.1], "format": ".1f", "labelExpr": "(datum.value >= 0 && abs(datum.value*5 - round(datum.value*5)) < 0.000001) ? datum.label : ''", "gridColor": {"condition": {"test": "datum.value >= 0 && abs(datum.value*5 - round(datum.value*5)) < 0.000001", "value": "#c4c4c4"}, "value": "#ececec"}, "tickSize": {"condition": {"test": "datum.value >= 0 && abs(datum.value*5 - round(datum.value*5)) < 0.000001", "value": 4}, "value": 2}, "title": "Euclidean distance", "titleX": -34, "titleY": 96.5, "titleBaseline": "middle"}}, "y2": {"field": "hi"}}},
  {"mark": {"type": "line", "strokeWidth": 1.3, "clip": true, "interpolate": "monotone"}, "encoding": {"y": {"field": "y", "type": "quantitative", "scale": {"domain": [-0.1, 1.1], "nice": false, "zero": false}, "axis": {"values": [-0.1,-0.05,0,0.05,0.1,0.15,0.2,0.25,0.3,0.35,0.4,0.45,0.5,0.55,0.6,0.65,0.7,0.75,0.8,0.85,0.9,0.95,1,1.05,1.1], "format": ".1f", "labelExpr": "(datum.value >= 0 && abs(datum.value*5 - round(datum.value*5)) < 0.000001) ? datum.label : ''", "gridColor": {"condition": {"test": "datum.value >= 0 && abs(datum.value*5 - round(datum.value*5)) < 0.000001", "value": "#c4c4c4"}, "value": "#ececec"}, "tickSize": {"condition": {"test": "datum.value >= 0 && abs(datum.value*5 - round(datum.value*5)) < 0.000001", "value": 4}, "value": 2}, "title": "Euclidean distance", "titleX": -34, "titleY": 96.5, "titleBaseline": "middle"}}}}
 ]
},
{
 "width": 260, "height": 193,
 "data": {"name": "bot"},
 "transform": [{"filter": "datum.p === 'LDP'"}],
 "encoding": {
  "x": {"field": "x", "type": "quantitative", "scale": {"domain": [-18.95, 419.95], "nice": false, "zero": false}, "axis": {"values": [1,20,40,60,80,100,120,140,160,180,200,220,240,260,280,300,320,340,360,380,400], "labelExpr": "indexof([1,80,160,240,320,400], datum.value) >= 0 ? datum.label : ''", "gridColor": {"condition": {"test": "indexof([1,80,160,240,320,400], datum.value) >= 0", "value": "#c4c4c4"}, "value": "#ececec"}, "tickSize": {"condition": {"test": "indexof([1,80,160,240,320,400], datum.value) >= 0", "value": 4}, "value": 2}, "title": "Iterations", "titlePadding": 2}},
  "color": {"field": "s", "type": "nominal", "scale": {"domain": ["Branch lengths", "Tree length"], "range": ["#2e78ab", "#4b4f6e"]}, "legend": null}
 },
 "layer": [
  {"mark": {"type": "area", "opacity": 0.28, "clip": true, "interpolate": "monotone"}, "encoding": {"y": {"field": "lo", "type": "quantitative", "stack": null, "scale": {"domain": [-0.1, 1.1], "nice": false, "zero": false}, "axis": {"values": [-0.1,-0.05,0,0.05,0.1,0.15,0.2,0.25,0.3,0.35,0.4,0.45,0.5,0.55,0.6,0.65,0.7,0.75,0.8,0.85,0.9,0.95,1,1.05,1.1], "labels": false, "gridColor": {"condition": {"test": "datum.value >= 0 && abs(datum.value*5 - round(datum.value*5)) < 0.000001", "value": "#c4c4c4"}, "value": "#ececec"}, "tickSize": {"condition": {"test": "datum.value >= 0 && abs(datum.value*5 - round(datum.value*5)) < 0.000001", "value": 4}, "value": 2}, "title": null}}, "y2": {"field": "hi"}}},
  {"mark": {"type": "line", "strokeWidth": 1.3, "clip": true, "interpolate": "monotone"}, "encoding": {"y": {"field": "y", "type": "quantitative", "scale": {"domain": [-0.1, 1.1], "nice": false, "zero": false}, "axis": {"values": [-0.1,-0.05,0,0.05,0.1,0.15,0.2,0.25,0.3,0.35,0.4,0.45,0.5,0.55,0.6,0.65,0.7,0.75,0.8,0.85,0.9,0.95,1,1.05,1.1], "labels": false, "gridColor": {"condition": {"test": "datum.value >= 0 && abs(datum.value*5 - round(datum.value*5)) < 0.000001", "value": "#c4c4c4"}, "value": "#ececec"}, "tickSize": {"condition": {"test": "datum.value >= 0 && abs(datum.value*5 - round(datum.value*5)) < 0.000001", "value": 4}, "value": 2}, "title": null}}}}
 ]
},
{
 "width": 260, "height": 193,
 "data": {"name": "bot"},
 "transform": [{"filter": "datum.p === 'NDP'"}],
 "encoding": {
  "x": {"field": "x", "type": "quantitative", "scale": {"domain": [-18.95, 419.95], "nice": false, "zero": false}, "axis": {"values": [1,20,40,60,80,100,120,140,160,180,200,220,240,260,280,300,320,340,360,380,400], "labelExpr": "indexof([1,80,160,240,320,400], datum.value) >= 0 ? datum.label : ''", "gridColor": {"condition": {"test": "indexof([1,80,160,240,320,400], datum.value) >= 0", "value": "#c4c4c4"}, "value": "#ececec"}, "tickSize": {"condition": {"test": "indexof([1,80,160,240,320,400], datum.value) >= 0", "value": 4}, "value": 2}, "title": "Iterations", "titlePadding": 2}},
  "color": {"field": "s", "type": "nominal", "scale": {"domain": ["Branch lengths", "Tree length"], "range": ["#2e78ab", "#4b4f6e"]}, "legend": {"orient": "top-right", "title": null, "symbolType": "M-1.3,0H1.3", "symbolSize": 361, "symbolStrokeWidth": 1.5, "symbolOpacity": 1, "symbolFillColor": "transparent", "labelFontSize": 12.4, "labelColor": "#111", "strokeColor": "#d4d4d4", "fillColor": "white", "padding": 4, "cornerRadius": 3, "offset": 6, "rowPadding": 0, "labelOffset": 12}}
 },
 "layer": [
  {"mark": {"type": "area", "opacity": 0.28, "clip": true, "interpolate": "monotone"}, "encoding": {"y": {"field": "lo", "type": "quantitative", "stack": null, "scale": {"domain": [-0.1, 1.1], "nice": false, "zero": false}, "axis": {"values": [-0.1,-0.05,0,0.05,0.1,0.15,0.2,0.25,0.3,0.35,0.4,0.45,0.5,0.55,0.6,0.65,0.7,0.75,0.8,0.85,0.9,0.95,1,1.05,1.1], "labels": false, "gridColor": {"condition": {"test": "datum.value >= 0 && abs(datum.value*5 - round(datum.value*5)) < 0.000001", "value": "#c4c4c4"}, "value": "#ececec"}, "tickSize": {"condition": {"test": "datum.value >= 0 && abs(datum.value*5 - round(datum.value*5)) < 0.000001", "value": 4}, "value": 2}, "title": null}}, "y2": {"field": "hi"}}},
  {"mark": {"type": "line", "strokeWidth": 1.3, "clip": true, "interpolate": "monotone"}, "encoding": {"y": {"field": "y", "type": "quantitative", "scale": {"domain": [-0.1, 1.1], "nice": false, "zero": false}, "axis": {"values": [-0.1,-0.05,0,0.05,0.1,0.15,0.2,0.25,0.3,0.35,0.4,0.45,0.5,0.55,0.6,0.65,0.7,0.75,0.8,0.85,0.9,0.95,1,1.05,1.1], "labels": false, "gridColor": {"condition": {"test": "datum.value >= 0 && abs(datum.value*5 - round(datum.value*5)) < 0.000001", "value": "#c4c4c4"}, "value": "#ececec"}, "tickSize": {"condition": {"test": "datum.value >= 0 && abs(datum.value*5 - round(datum.value*5)) < 0.000001", "value": 4}, "value": 2}, "title": null}}}}
 ]
}
]
}
